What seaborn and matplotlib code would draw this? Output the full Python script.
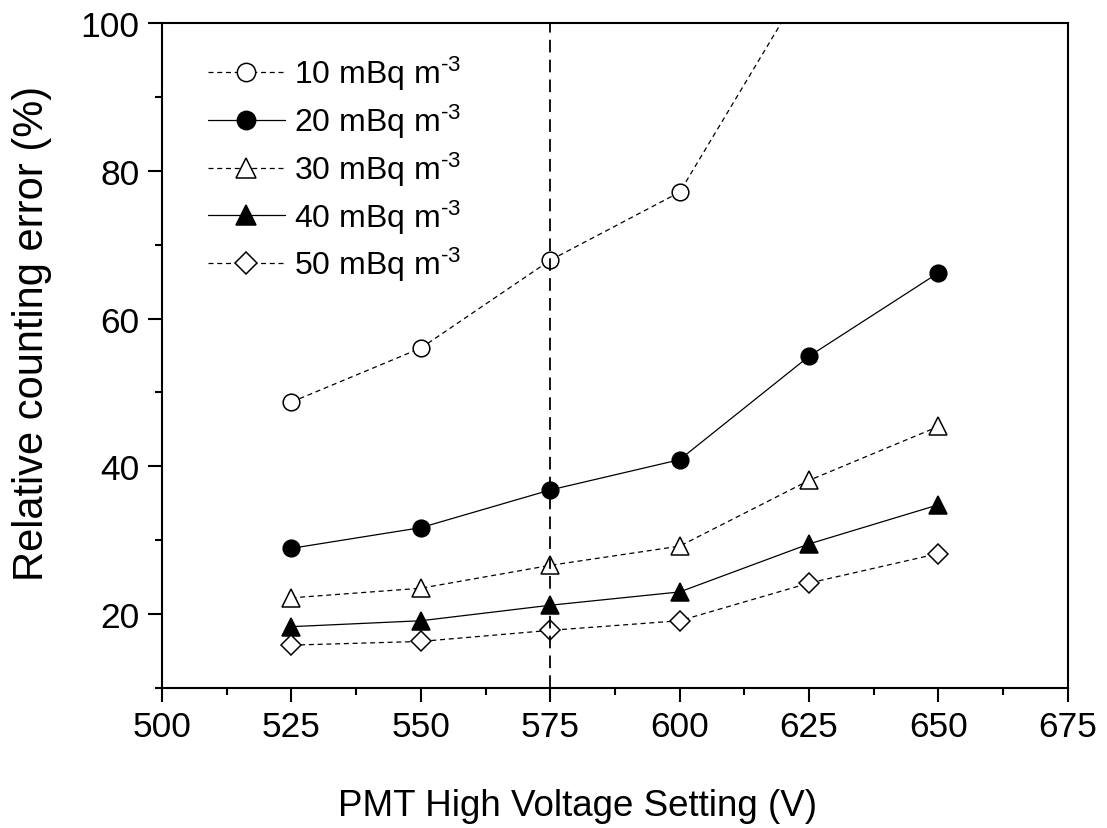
import numpy as np
import pandas as pd
import matplotlib
matplotlib.use("Agg")
import matplotlib.pyplot as plt
import seaborn as sns

# ---------------- data ----------------
voltages = [525, 550, 575, 600, 625, 650]
sup = "$^{\u20103}$"
series_labels = ["10 mBq m" + sup, "20 mBq m" + sup, "30 mBq m" + sup,
                 "40 mBq m" + sup, "50 mBq m" + sup]
err_10 = [48.7, 56.0, 67.9, 77.1, 106.3]          # 650 V point is off-scale
err_20 = [28.9, 31.7, 36.8, 40.9, 54.9, 66.2]
err_30 = [22.2, 23.5, 26.6, 29.2, 38.1, 45.4]
err_40 = [18.3, 19.1, 21.2, 23.0, 29.5, 34.8]
err_50 = [15.8, 16.3, 17.8, 19.1, 24.2, 28.2]
selected_voltage = 575

x_ticks = [500, 525, 550, 575, 600, 625, 650, 675]
y_ticks = [20, 40, 60, 80, 100]

all_errors = [err_10, err_20, err_30, err_40, err_50]
frames = []
for lab, vals in zip(series_labels, all_errors):
    frames.append(pd.DataFrame({"voltage": voltages[:len(vals)],
                                "error": vals, "series": lab}))
df = pd.concat(frames, ignore_index=True)

# ---------------- style ----------------
sns.set_theme(style="ticks")
plt.rcParams["font.family"] = ["Liberation Sans", "DejaVu Sans"]
plt.rcParams["mathtext.fontset"] = "custom"
plt.rcParams["mathtext.rm"] = "Liberation Sans"
plt.rcParams["mathtext.it"] = "Liberation Sans:italic"
plt.rcParams["mathtext.bf"] = "Liberation Sans:bold"
plt.rcParams["mathtext.default"] = "regular"
for k in ["text.color", "axes.labelcolor", "xtick.color", "ytick.color",
          "axes.edgecolor"]:
    plt.rcParams[k] = "black"

fig = plt.figure(figsize=(11.07, 8.29), dpi=100)
ax = fig.add_axes([0.1463, 0.1689, 0.8184, 0.8021])

styles = [
    dict(marker="o", mfc="white", ms=12, ls=(0, (4, 3)), lw=0.9),
    dict(marker="o", mfc="black", ms=12, ls="-", lw=0.9),
    dict(marker="^", mfc="white", ms=13, ls=(0, (4, 3)), lw=0.9),
    dict(marker="^", mfc="black", ms=13, ls="-", lw=0.9),
    dict(marker="D", mfc="white", ms=10, ls=(0, (4, 3)), lw=0.9),
]

for lab, st in zip(series_labels, styles):
    sub = df[df["series"] == lab]
    sns.lineplot(data=sub, x="voltage", y="error", ax=ax, color="black",
                 marker=st["marker"], markerfacecolor=st["mfc"],
                 markeredgecolor="black", markeredgewidth=1.1,
                 markersize=st["ms"], linestyle=st["ls"], linewidth=st["lw"],
                 label=lab, zorder=3, legend=False)

handles = list(ax.get_lines())[:len(series_labels)]

ax.axvline(selected_voltage, color="black", lw=1.3, ls=(0, (7, 4)), zorder=4)

ax.set_xlim(500, 675)
ax.set_ylim(10, 100)
ax.set_xticks(x_ticks)
ax.set_xticks(np.arange(512.5, 675, 25), minor=True)
ax.set_yticks(y_ticks)
ax.set_yticks([10, 30, 50, 70, 90], minor=True)

for s in ax.spines.values():
    s.set_visible(True)
    s.set_linewidth(1.5)
    s.set_color("black")

ax.tick_params(which="major", direction="out", length=10, width=1.5,
               labelsize=25.5, pad=6, colors="black")
ax.tick_params(which="minor", direction="out", length=5, width=1.5)
ax.tick_params(top=False, right=False, which="both")

ax.set_xlabel("PMT High Voltage Setting (V)", fontsize=26.5)
ax.set_ylabel("Relative counting error (%)", fontsize=30)
ax.xaxis.label.set_va("baseline")
ax.yaxis.label.set_va("baseline")
ax.xaxis.set_label_coords(0.4585, -0.1905)
ax.yaxis.set_label_coords(-0.131, 0.534)

leg = ax.legend(handles=handles, labels=series_labels, loc="upper left",
                bbox_to_anchor=(0.051, 0.954),
                frameon=False, fontsize=23, handlelength=2.4,
                handletextpad=0.3, labelspacing=0.30, borderaxespad=0,
                borderpad=0, markerscale=1.1)

fig.savefig("out.png", dpi=100)
